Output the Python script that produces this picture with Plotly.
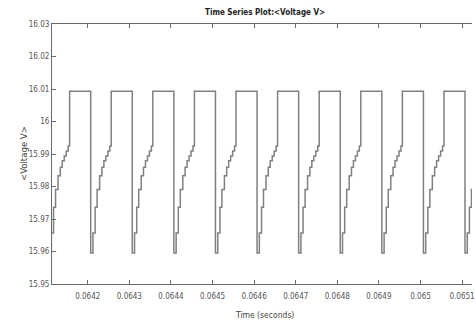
import plotly.graph_objects as go

# Falling-edge times of each cycle (seconds)
falling_edges = [0.064107, 0.064207, 0.064307, 0.064407, 0.064507, 0.064607,
                 0.064707, 0.064807, 0.064907, 0.065007, 0.065107]
# Step times inside a cycle, microseconds after the falling edge
step_offsets_us = [0.0, 5.5, 10.7, 15.5, 21.5, 27.0, 31.7, 36.5, 41.3, 46.0, 49.4]
# Voltage level held from each step on
step_levels = [15.9595, 15.9657, 15.9736, 15.9791, 15.9833, 15.9859,
               15.9879, 15.9894, 15.9909, 15.9925, 16.0093]

x_tickvals = [0.0642, 0.0643, 0.0644, 0.0645, 0.0646, 0.0647, 0.0648, 0.0649, 0.0650, 0.0651]
x_ticktext = ["0.0642", "0.0643", "0.0644", "0.0645", "0.0646", "0.0647", "0.0648", "0.0649", "0.065", "0.0651"]
y_tickvals = [15.95, 15.96, 15.97, 15.98, 15.99, 16.00, 16.01, 16.02, 16.03]
y_ticktext = ["15.95", "15.96", "15.97", "15.98", "15.99", "16", "16.01", "16.02", "16.03"]

xs, ys = [0.0640], [step_levels[-1]]
for t0 in falling_edges:
    for off, lv in zip(step_offsets_us, step_levels):
        xs.append(t0 + off * 1e-6)
        ys.append(lv)
xs.append(0.0652)
ys.append(ys[-1])

FONT = "Liberation Sans Narrow, Arial Narrow, DejaVu Sans Condensed, sans-serif"
AX = "#6a6a6a"

fig = go.Figure(go.Scatter(x=xs, y=ys, mode="lines", line_shape="hv",
                           line=dict(color="#808080", width=1.5), hoverinfo="skip"))

fig.update_layout(
    width=475, height=322,
    margin=dict(l=52, r=0, t=24, b=38),
    paper_bgcolor="white", plot_bgcolor="white",
    showlegend=False,
    font=dict(family=FONT, size=8, color="#555"),
    annotations=[
        dict(text="<b>Time Series Plot:&lt;Voltage V&gt;</b>", xref="paper", yref="paper",
             x=0.506, y=1, yshift=12, xanchor="center", yanchor="middle", showarrow=False,
             font=dict(family=FONT, size=8, color="#222")),
        dict(text="Time (seconds)", xref="paper", yref="paper",
             x=0.506, y=0, yshift=-31, xanchor="center", yanchor="middle", showarrow=False,
             font=dict(family=FONT, size=8.5, color="#444")),
        dict(text="&lt;Voltage V&gt;", xref="paper", yref="paper",
             x=0, xshift=-29, y=0.5, xanchor="center", yanchor="middle", showarrow=False,
             textangle=-90, font=dict(family=FONT, size=9.5, color="#444")),
    ],
)
fig.update_xaxes(range=[0.064114, 0.0651238], tickvals=x_tickvals, ticktext=x_ticktext,
                 ticks="inside", ticklen=4, tickcolor=AX, showline=True, linecolor=AX,
                 linewidth=1.2, mirror="ticks", showgrid=False, zeroline=False,
                 ticklabeloverflow="allow", ticklabelstandoff=4)
fig.update_yaxes(range=[15.95, 16.03], tickvals=y_tickvals, ticktext=y_ticktext,
                 ticks="inside", ticklen=4, tickcolor=AX, showline=True, linecolor=AX,
                 linewidth=1.2, showgrid=False, zeroline=False)

fig.write_html("out.html")
